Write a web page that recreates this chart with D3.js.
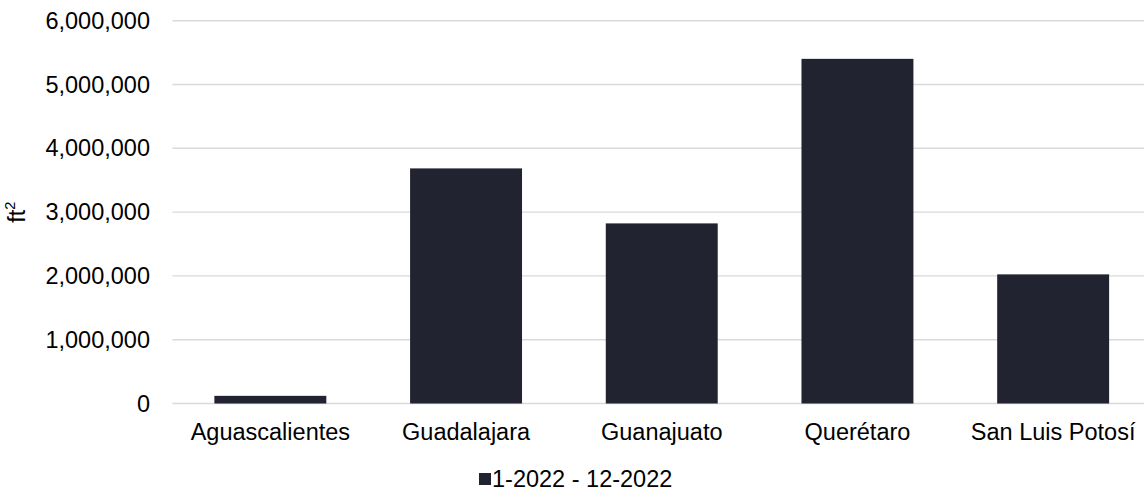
<!DOCTYPE html>
<html>
<head>
<meta charset="utf-8">
<script src="https://cdn.jsdelivr.net/npm/d3@7"></script>
<style>
  html, body { margin: 0; padding: 0; background: #ffffff; }
  svg { display: block; font-family: "Liberation Sans", Arial, sans-serif; }
</style>
</head>
<body>
<svg id="chart" width="1144" height="493"></svg>
<script>
// Leased industrial space by market, Jan–Dec 2022
const categories = ["Aguascalientes", "Guadalajara", "Guanajuato", "Querétaro", "San Luis Potosí"];
const values = [120000, 3685000, 2823000, 5402000, 2024000];
const seriesName = "1-2022 - 12-2022";
const yTicks = [0, 1000000, 2000000, 3000000, 4000000, 5000000, 6000000];

const svg = d3.select("#chart");
const barColor = "#212330";
const gridColor = "#d9d9d9";
const fontSize = 23.5;

const plot = { left: 172.5, right: 1151, top: 20.7, bottom: 403.5 };

const x = d3.scaleBand()
  .domain(categories)
  .range([plot.left, plot.right])
  .paddingInner(0.428)
  .paddingOuter(0.214);

const y = d3.scaleLinear()
  .domain([0, 6000000])
  .range([plot.bottom, plot.top]);

const fmt = d3.format(",");

// horizontal gridlines
svg.append("g")
  .selectAll("line")
  .data(yTicks)
  .join("line")
  .attr("x1", plot.left)
  .attr("x2", plot.right)
  .attr("y1", d => y(d))
  .attr("y2", d => y(d))
  .attr("stroke", gridColor)
  .attr("stroke-width", 1.4);

// y axis labels
const yAxis = d3.axisLeft(y).tickValues(yTicks).tickFormat(fmt).tickSize(0).tickPadding(0);
const gy = svg.append("g")
  .attr("transform", `translate(150,0)`)
  .call(yAxis);
gy.select(".domain").remove();
gy.selectAll("text")
  .attr("font-size", fontSize)
  .attr("font-family", "Liberation Sans, Arial, sans-serif")
  .attr("fill", "#000");

// bars
svg.append("g")
  .selectAll("rect")
  .data(values)
  .join("rect")
  .attr("x", (d, i) => x(categories[i]))
  .attr("width", x.bandwidth())
  .attr("y", d => y(d))
  .attr("height", d => y(0) - y(d))
  .attr("fill", barColor);

// x axis labels
const xAxis = d3.axisBottom(x).tickSize(0).tickPadding(0);
const gx = svg.append("g")
  .attr("transform", `translate(0,${plot.bottom + 20})`)
  .call(xAxis);
gx.select(".domain").remove();
gx.selectAll("text")
  .attr("font-size", fontSize)
  .attr("font-family", "Liberation Sans, Arial, sans-serif")
  .attr("fill", "#000")
  .attr("dy", "0.71em");

// y axis title
const yTitle = svg.append("text")
  .attr("transform", `translate(25,${(plot.top + plot.bottom) / 2}) rotate(-90)`)
  .attr("text-anchor", "middle")
  .attr("font-size", fontSize)
  .attr("fill", "#000");
yTitle.append("tspan").text("ft");
yTitle.append("tspan").attr("font-size", fontSize * 0.62).attr("dy", "-0.7em").text("2");

// legend
const legend = svg.append("g").attr("transform", "translate(479,473)");
legend.append("rect")
  .attr("width", 12).attr("height", 12)
  .attr("fill", barColor);
legend.append("text")
  .attr("x", 13).attr("y", 6)
  .attr("dy", "0.36em")
  .attr("font-size", fontSize)
  .attr("fill", "#000")
  .text(seriesName);
</script>
</body>
</html>
